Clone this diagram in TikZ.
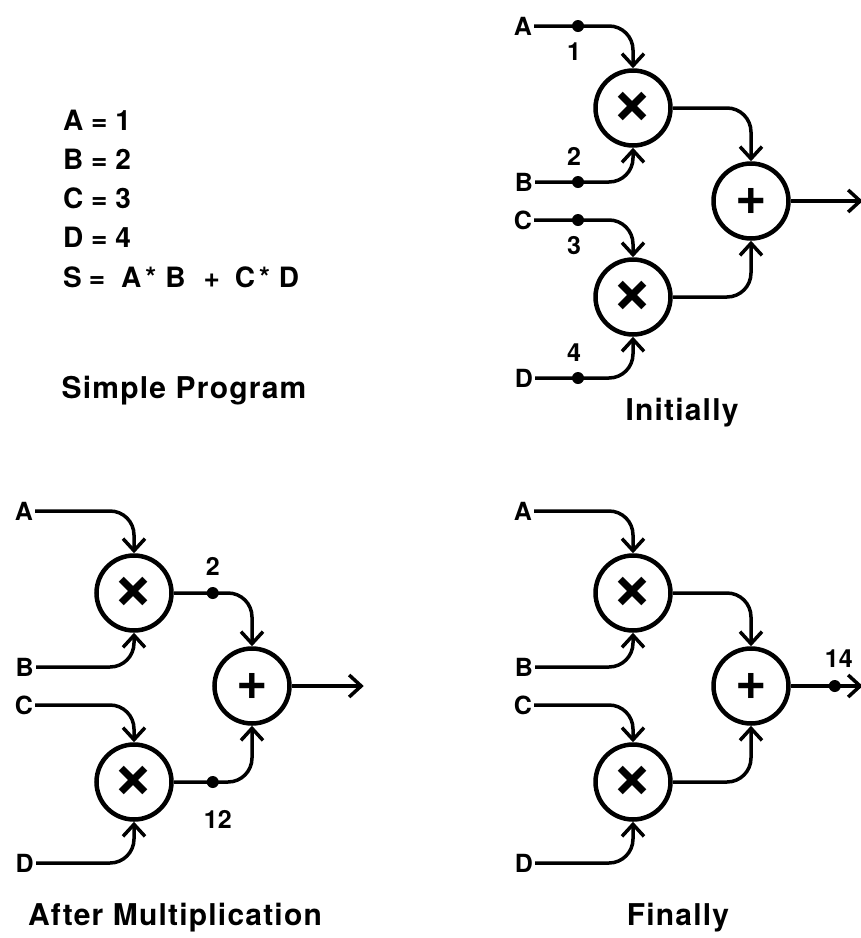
\documentclass[tikz,border=0pt]{standalone}
\usepackage{fontspec}
\setmainfont{TeX Gyre Heros}
\usetikzlibrary{arrows.meta, positioning}

\tikzset{
    op/.style={circle, draw, line width=4.5pt, minimum size=75pt, inner sep=0pt,
        font=\fontsize{50}{50}\selectfont\bfseries},
    wire/.style={line width=3.5pt, rounded corners=24pt,
        -{Straight Barb[length=12pt, width=22pt]}},
    dot/.style={circle, fill, inner sep=0pt, minimum size=12pt},
    lbl/.style={inner sep=2pt, font=\fontsize{25}{25}\selectfont\bfseries},
    prog/.style={inner sep=0pt, anchor=west, font=\fontsize{28}{28}\selectfont\bfseries},
    caption/.style={inner sep=0pt, font=\fontsize{30}{30}\selectfont\bfseries\addfontfeature{LetterSpace=4}},
}
\newcommand{\mul}{\fontsize{72}{72}\selectfont ×}
\newcommand{\add}{\fontsize{54}{54}\selectfont +}

\begin{document}
\begin{tikzpicture}[x=1pt, y=-1pt]
    \useasboundingbox (0,0) rectangle (861,938);

    % the program
    \foreach \t [count=\i] in {A = 1, B = 2, C = 3, D = 4}
        \node[prog] (l\i) at (63,{120+39*(\i-1)}) {\t};
    \node[prog] (l5) at (63,277) {S\hspace{7pt}=\hspace{16pt}A\hspace{4pt}*\hspace{9pt}B%
        \hspace{18pt}+\hspace{15pt}C\hspace{4pt}*\hspace{9pt}D};
    \node[caption] (tp) at (184,391) {Simple Program};

    % the same network three times: i = initially, a = after mult., f = finally
    \foreach \p/\dx/\dy in {i/0/0, a/-499/485, f/0/485}{
        \begin{scope}[shift={(\dx,\dy)}]
            \node[op] (m1\p) at (633,108) {\mul};
            \node[op] (sum\p) at (751,201) {\add};
            \node[op] (m2\p) at (633,297) {\mul};
            \node[lbl, anchor=east] (A\p) at (534,26) {A};
            \node[lbl, anchor=east] (B\p) at (535,182) {B};
            \node[lbl, anchor=east] (C\p) at (534,220) {C};
            \node[lbl, anchor=east] (D\p) at (535,378) {D};
            \coordinate (out\p) at ([xshift=72pt]sum\p.east);
            \draw[wire] (A\p.east) -| (m1\p.north);
            \draw[wire] (B\p.east) -| (m1\p.south);
            \draw[wire] (C\p.east) -| (m2\p.north);
            \draw[wire] (D\p.east) -| (m2\p.south);
            \draw[wire] (m1\p.east) -| (sum\p.north);
            \draw[wire] (m2\p.east) -| (sum\p.south);
            \draw[wire] (sum\p.east) -- (out\p);
        \end{scope}
    }

    % tokens, initially
    \node[dot] (tAi) at ([xshift=44pt]Ai.east) {};
    \node[dot] (tBi) at ([xshift=43pt]Bi.east) {};
    \node[dot] (tCi) at ([xshift=44pt]Ci.east) {};
    \node[dot] (tDi) at ([xshift=43pt]Di.east) {};
    \node[lbl, below=8pt of tAi, xshift=-4pt] (vAi) {1};
    \node[lbl, above=8pt of tBi, xshift=-4pt] (vBi) {2};
    \node[lbl, below=8pt of tCi, xshift=-4pt] (vCi) {3};
    \node[lbl, above=8pt of tDi, xshift=-4pt] (vDi) {4};
    \node[caption] (ti) at (682,413) {Initially};

    % tokens, after multiplication
    \node[dot] (t1a) at ([xshift=39pt]m1a.east) {};
    \node[dot] (t2a) at ([xshift=39pt]m2a.east) {};
    \node[lbl, above=9pt of t1a] (v1a) {2};
    \node[lbl, below=20pt of t2a, xshift=5pt] (v2a) {12};
    \node[caption] (ta) at (175,918) {After Multiplication};

    % token, finally
    \node[dot] (tf) at ([xshift=44pt]sumf.east) {};
    \node[lbl, above=10pt of tf, xshift=4pt] (vf) {14};
    \node[caption] (tcf) at (678,918) {Finally};
    %\draw[red] (0,0) grid[step=50] (861,938);
\end{tikzpicture}
\end{document}
